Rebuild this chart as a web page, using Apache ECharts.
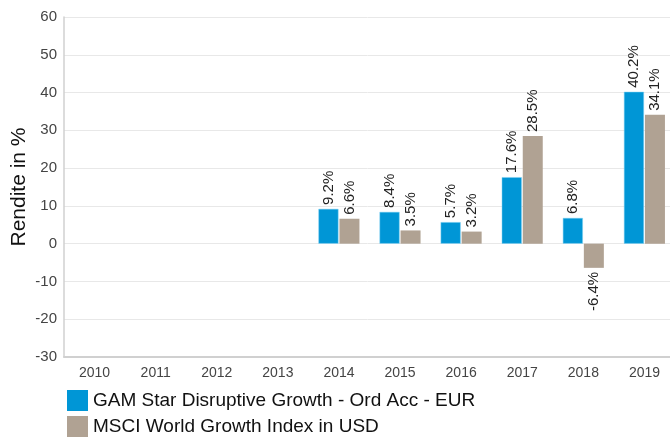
<!DOCTYPE html>
<html>
<head>
<meta charset="utf-8">
<script src="https://cdn.jsdelivr.net/npm/echarts@6/dist/echarts.min.js"></script>
<style>
  html, body { margin: 0; padding: 0; background: #fff; }
  #chart { width: 670px; height: 439px; }
</style>
</head>
<body>
<div id="chart"></div>
<script>
// Jahresrenditen
var years = ['2010', '2011', '2012', '2013', '2014', '2015', '2016', '2017', '2018', '2019'];
var fundValues = [null, null, null, null, 9.2, 8.4, 5.7, 17.6, 6.8, 40.2];
var indexValues = [null, null, null, null, 6.6, 3.5, 3.2, 28.5, -6.4, 34.1];
var seriesNames = ['GAM Star Disruptive Growth - Ord Acc - EUR', 'MSCI World Growth Index in USD'];
var colors = ['#0096d6', '#b0a293'];

function toData(arr) {
  return arr.map(function (v) {
    if (v === null) return '-';
    if (v < 0) {
      return {
        value: v,
        label: { position: 'bottom', align: 'right' }
      };
    }
    return v;
  });
}

var labelStyle = {
  show: true,
  position: 'top',
  rotate: 90,
  align: 'left',
  verticalAlign: 'middle',
  distance: 4,
  fontSize: 15,
  color: '#222',
  fontFamily: 'Liberation Sans, Arial, sans-serif',
  formatter: function (p) {
    return p.value.toFixed(1) + '%';
  }
};

var option = {
  animation: false,
  color: colors,
  textStyle: { fontFamily: 'Liberation Sans, Arial, sans-serif' },
  grid: { left: 64, right: -5, top: 17, bottom: 82, outerBoundsMode: 'none' },
  legend: {
    orient: 'vertical',
    left: 62,
    top: 385,
    height: 80,
    icon: 'rect',
    itemWidth: 21,
    itemHeight: 21,
    itemGap: 5,
    itemStyle: { borderWidth: 0 },
    textStyle: { fontSize: 19, color: '#111' },
    data: seriesNames
  },
  xAxis: {
    type: 'category',
    data: years,
    axisLine: { onZero: false, lineStyle: { color: '#d0d0d0', width: 2 } },
    axisTick: { show: false },
    axisLabel: { fontSize: 14, color: '#444', margin: 9 }
  },
  yAxis: {
    type: 'value',
    min: -30,
    max: 60,
    interval: 10,
    name: 'Rendite in %',
    nameLocation: 'middle',
    nameGap: 34,
    nameMoveOverlap: false,
    nameTextStyle: { fontSize: 21, color: '#111' },
    axisLine: { show: true, lineStyle: { color: '#d0d0d0', width: 1.5 } },
    axisTick: { show: false },
    axisLabel: { fontSize: 15, color: '#444', margin: 7 },
    splitLine: { lineStyle: { color: '#e8e8e8' } }
  },
  series: [
    {
      name: seriesNames[0],
      type: 'bar',
      barWidth: 20,
      barGap: '5%',
      itemStyle: { borderColor: '#7fd0f2', borderWidth: 0.5 },
      label: labelStyle,
      data: toData(fundValues)
    },
    {
      name: seriesNames[1],
      type: 'bar',
      barWidth: 20,
      barGap: '5%',
      label: labelStyle,
      data: toData(indexValues)
    }
  ]
};

var chart = echarts.init(document.getElementById('chart'));
chart.setOption(option);
</script>
</body>
</html>
